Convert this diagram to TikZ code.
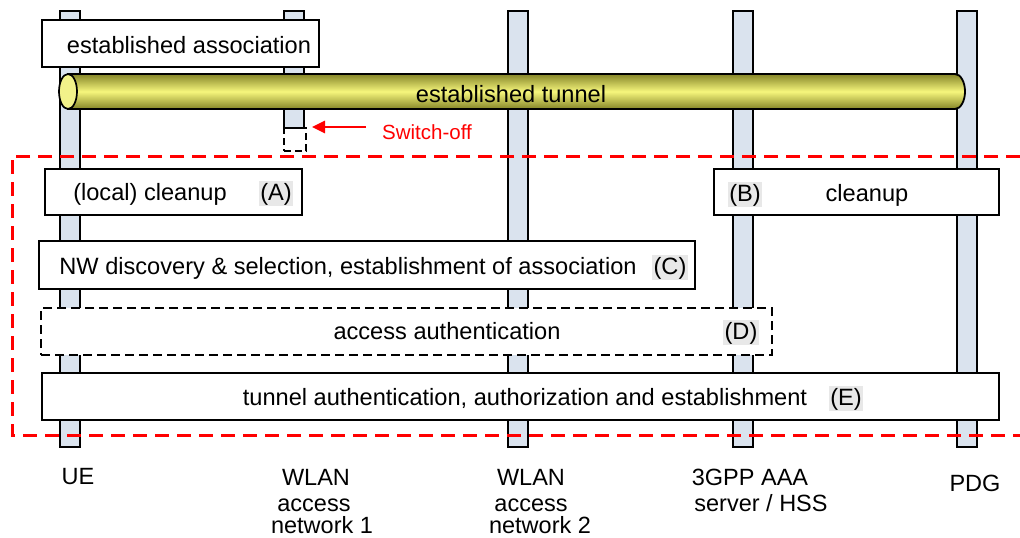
\documentclass[tikz,border=0pt]{standalone}
\usepackage{fontspec}
\setmainfont{Liberation Sans}
\usetikzlibrary{arrows.meta}
\definecolor{barfill}{HTML}{DAE3EE}
\definecolor{olivedark}{HTML}{858528}
\definecolor{tunnellight}{HTML}{F6F67C}
\definecolor{capfill}{HTML}{F2F28A}
\definecolor{tagfill}{HTML}{E8E8E8}
\begin{document}
\begin{tikzpicture}[x=1pt,y=-1pt,
  lifeline/.style={draw=black, line width=1.7pt, fill=barfill, minimum width=20pt, inner sep=0pt, anchor=north},
  stepbox/.style={draw=black, line width=1.7pt, fill=white, inner sep=0pt, anchor=north west},
  dashbox/.style={draw=black, line width=2pt, dash pattern=on 9pt off 5pt, fill=white, inner sep=0pt, anchor=north west},
  txt/.style={font=\fontsize{23.6}{27}\selectfont, inner sep=0pt, anchor=base},
  tag/.style={font=\fontsize{23.6}{27}\selectfont, fill=tagfill, inner sep=1.5pt, anchor=base},
  lbl/.style={font=\fontsize{23.5}{26}\selectfont, inner sep=0pt, anchor=base, align=center}
]
\useasboundingbox (0,0) rectangle (1020,538);

% lifelines
\node[lifeline, minimum height=436pt] (ue) at (70,10) {};
\node[lifeline, minimum height=117pt] (wl1) at (294,10) {};
\node[lifeline, minimum height=436pt] (wl2) at (518,10) {};
\node[lifeline, minimum height=436pt] (aaa) at (743,10) {};
\node[lifeline, minimum height=436pt] (pdg) at (967,10) {};

% established association
\node[stepbox, minimum width=277pt, minimum height=47pt] (assoc) at (41,19) {};
\node[txt] (assoctxt) at (189,53) {established association};

% tunnel
\shadedraw[top color=olivedark, bottom color=olivedark, middle color=tunnellight, draw=black, line width=1.8pt]
  (68,74) -- (955,74) arc[start angle=-90, end angle=90, x radius=10, y radius=17.5] -- (68,109) -- cycle;
\draw[fill=capfill, line width=1.7pt] (68,91.5) ellipse[x radius=9, y radius=17.5];
\node[txt] (tunneltxt) at (511,102) {established tunnel};

% switch-off
\node[draw=black, line width=2pt, dash pattern=on 7pt off 4pt, minimum width=22pt, minimum height=23pt, inner sep=0pt, anchor=north west] (sbox) at (283,127) {};
\coordinate (swstart) at (366,127);
\draw[red, line width=2.6pt, -{Triangle[length=13pt,width=12pt]}] (swstart) -- ([xshift=5pt]sbox.north east);
\node[font=\fontsize{20.5}{24}\selectfont, text=red, inner sep=0pt, anchor=base] (swtxt) at (427,139) {Switch-off};

% red dashed region
\draw[red, line width=3pt, dash pattern=on 14pt off 8pt] (1020,156) -- (12,156) -- (12,435) -- (1020,435);

% (A) local cleanup
\node[stepbox, minimum width=257pt, minimum height=46pt] (cleanA) at (44,168) {};
\node[txt] (cleanAtxt) at (150,200) {(local) cleanup};
\node[tag] (tagA) at (276,200) {(A)};

% (B) cleanup
\node[stepbox, minimum width=285pt, minimum height=46pt] (cleanB) at (713,168) {};
\node[tag] (tagB) at (745,201) {(B)};
\node[txt] (cleanBtxt) at (867,201) {cleanup};

% (C)
\node[stepbox, minimum width=656pt, minimum height=48pt] (nw) at (38,240) {};
\node[txt] (nwtxt) at (348,274) {NW discovery \& selection, establishment of association};
\node[tag] (tagC) at (670,274) {(C)};

% (D)
\node[dashbox, minimum width=731pt, minimum height=47pt] (acc) at (40,307) {};
\node[txt] (acctxt) at (447,339) {access authentication};
\node[tag] (tagD) at (741,339) {(D)};

% (E)
\node[stepbox, minimum width=957pt, minimum height=47pt] (tun) at (41,372) {};
\node[txt] (tuntxt) at (525,405) {tunnel authentication, authorization and establishment};
\node[tag] (tagE) at (846,405) {(E)};

% bottom labels
\node[lbl] (uelbl) at (78,484) {UE};
\node[lbl] (wl1a) at (316,485) {WLAN};
\node[lbl] (wl1b) at (314,511) {access};
\node[lbl] (wl1c) at (322,533) {network 1};
\node[lbl] (wl2a) at (531,485) {WLAN};
\node[lbl] (wl2b) at (531,511) {access};
\node[lbl] (wl2c) at (540,533) {network 2};
\node[lbl] (aaaa) at (750,485) {3GPP AAA};
\node[lbl] (aaab) at (761,511) {server / HSS};
\node[lbl] (pdglbl) at (975,491) {PDG};
\end{tikzpicture}
\end{document}
